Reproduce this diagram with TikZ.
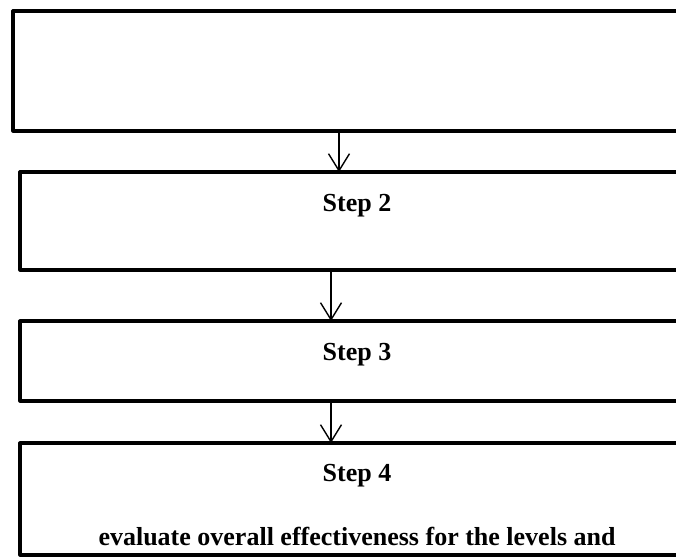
\documentclass[tikz,border=0pt]{standalone}
\usepackage{fontspec}
\setmainfont{Liberation Serif}
\usetikzlibrary{arrows.meta,positioning}

\begin{document}
\begin{tikzpicture}[
            x = 1pt, y = -1pt, % work in points, y going down
            > = {Straight Barb[length=17pt,width=21pt]}, % open arrow head
            every node/.style = {font=\bfseries\fontsize{26}{31}\selectfont},
            stepbox/.style = {draw, line width=3.2pt, line join=round,
                outer sep=0pt, inner sep=0pt, align=center,
                text height=39pt, minimum width=674pt}, % the step boxes
            flow/.style = {->, line width=1.4pt} % connector style
        ]

	\path[use as bounding box] (0,0) rectangle (676,557);
	\clip (0,0) rectangle (676,557);

	\node[stepbox, minimum width=681pt, text height=120pt, text depth=0pt, anchor=north west] (s1) at (13,11) {};
	\node[stepbox, text depth=59pt, below right=41pt and 7pt of s1.south west] (s2) {Step 2};
	\node[stepbox, text depth=41pt, below right=51pt and 0pt of s2.south west] (s3) {Step 3};
	\node[stepbox, text height=102pt, text depth=10pt, below right=42pt and 0pt of s3.south west] (s4)
		{Step 4\\[33pt]evaluate overall effectiveness for the levels and};

	\draw[flow] ([xshift=-14.5pt]s1.south) -- ([xshift=-14.5pt]s1.south |- s2.north);
	\draw[flow] ([xshift=-26pt]s2.south) -- ([xshift=-26pt]s3.north);
	\draw[flow] ([xshift=-26pt]s3.south) -- ([xshift=-26pt]s4.north);

\end{tikzpicture}
\end{document}
